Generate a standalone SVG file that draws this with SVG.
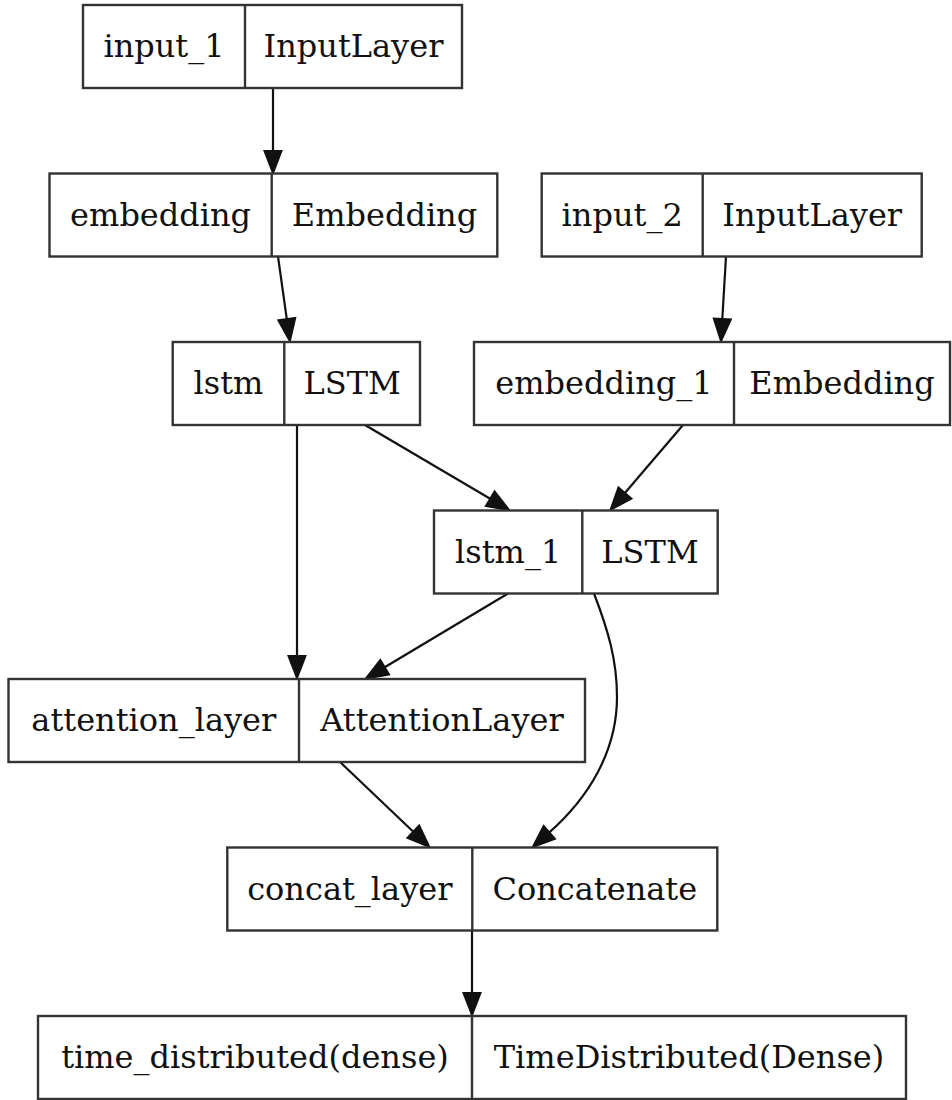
<svg xmlns="http://www.w3.org/2000/svg" width="952" height="1100" viewBox="0 0 952 1100">
<style>
.box{fill:#fff;stroke:#333;stroke-width:2.4}
.div{stroke:#333;stroke-width:2.4}
.t{font-family:"DejaVu Serif","Liberation Serif",serif;font-size:32px;fill:#111;text-anchor:middle}
.e{fill:none;stroke:#111;stroke-width:2.2}
</style>
<defs>
<marker id="ah" markerUnits="userSpaceOnUse" markerWidth="30" markerHeight="22" refX="0" refY="0" viewBox="-2 -11 30 22" orient="auto" overflow="visible">
<path d="M0,-8.5 L22,0 L0,8.5 z" fill="#111" stroke="#111" stroke-width="2"/>
</marker>
</defs>
<rect width="952" height="1100" fill="#fff"/>
<g id="edges">
<path class="e" marker-end="url(#ah)" d="M273,88 L273,151"/>
<path class="e" marker-end="url(#ah)" d="M278,256.5 L286.8,319.2"/>
<path class="e" marker-end="url(#ah)" d="M726,256.5 L722.3,319"/>
<path class="e" marker-end="url(#ah)" d="M297,425 L297,656"/>
<path class="e" marker-end="url(#ah)" d="M365,425 L490.2,498.8"/>
<path class="e" marker-end="url(#ah)" d="M683,425 L624.9,493"/>
<path class="e" marker-end="url(#ah)" d="M508,593.5 L384.7,667.2"/>
<path class="e" marker-end="url(#ah)" d="M594,593.5 C608,630 617,660 617,697 C617,752 588,798 549.3,832.4"/>
<path class="e" marker-end="url(#ah)" d="M340,762 L413.3,831.7"/>
<path class="e" marker-end="url(#ah)" d="M472,930.5 L472,993"/>
</g>
<g id="input_1">
<rect class="box" x="83" y="5" width="379" height="83"/>
<line class="div" x1="245" y1="5" x2="245" y2="88"/>
<text class="t" x="164" y="57">input_1</text>
<text class="t" x="353.5" y="57">InputLayer</text>
</g>
<g id="embedding">
<rect class="box" x="49.5" y="173.5" width="447.8" height="83"/>
<line class="div" x1="271.7" y1="173.5" x2="271.7" y2="256.5"/>
<text class="t" x="160.6" y="225.5">embedding</text>
<text class="t" x="384.5" y="225.5">Embedding</text>
</g>
<g id="input_2">
<rect class="box" x="541.7" y="173.5" width="380" height="83"/>
<line class="div" x1="702.7" y1="173.5" x2="702.7" y2="256.5"/>
<text class="t" x="622.2" y="225.5">input_2</text>
<text class="t" x="812.2" y="225.5">InputLayer</text>
</g>
<g id="lstm">
<rect class="box" x="172.7" y="342" width="247.3" height="83"/>
<line class="div" x1="284.3" y1="342" x2="284.3" y2="425"/>
<text class="t" x="228.5" y="394">lstm</text>
<text class="t" x="352.2" y="394">LSTM</text>
</g>
<g id="embedding_1">
<rect class="box" x="474" y="342" width="476" height="83"/>
<line class="div" x1="734" y1="342" x2="734" y2="425"/>
<text class="t" x="604" y="394">embedding_1</text>
<text class="t" x="842" y="394">Embedding</text>
</g>
<g id="lstm_1">
<rect class="box" x="434" y="510.5" width="283.7" height="83"/>
<line class="div" x1="582.3" y1="510.5" x2="582.3" y2="593.5"/>
<text class="t" x="508.2" y="562.5">lstm_1</text>
<text class="t" x="650" y="562.5">LSTM</text>
</g>
<g id="attention_layer">
<rect class="box" x="8.5" y="679" width="576.5" height="83"/>
<line class="div" x1="299" y1="679" x2="299" y2="762"/>
<text class="t" x="153.8" y="731">attention_layer</text>
<text class="t" x="442" y="731">AttentionLayer</text>
</g>
<g id="concat_layer">
<rect class="box" x="227.3" y="847.5" width="490" height="83"/>
<line class="div" x1="472.3" y1="847.5" x2="472.3" y2="930.5"/>
<text class="t" x="349.8" y="899.5">concat_layer</text>
<text class="t" x="594.8" y="899.5">Concatenate</text>
</g>
<g id="time_distributed">
<rect class="box" x="38" y="1016" width="868" height="83"/>
<line class="div" x1="472" y1="1016" x2="472" y2="1099"/>
<text class="t" x="255" y="1068">time_distributed(dense)</text>
<text class="t" x="689" y="1068">TimeDistributed(Dense)</text>
</g>
</svg>
